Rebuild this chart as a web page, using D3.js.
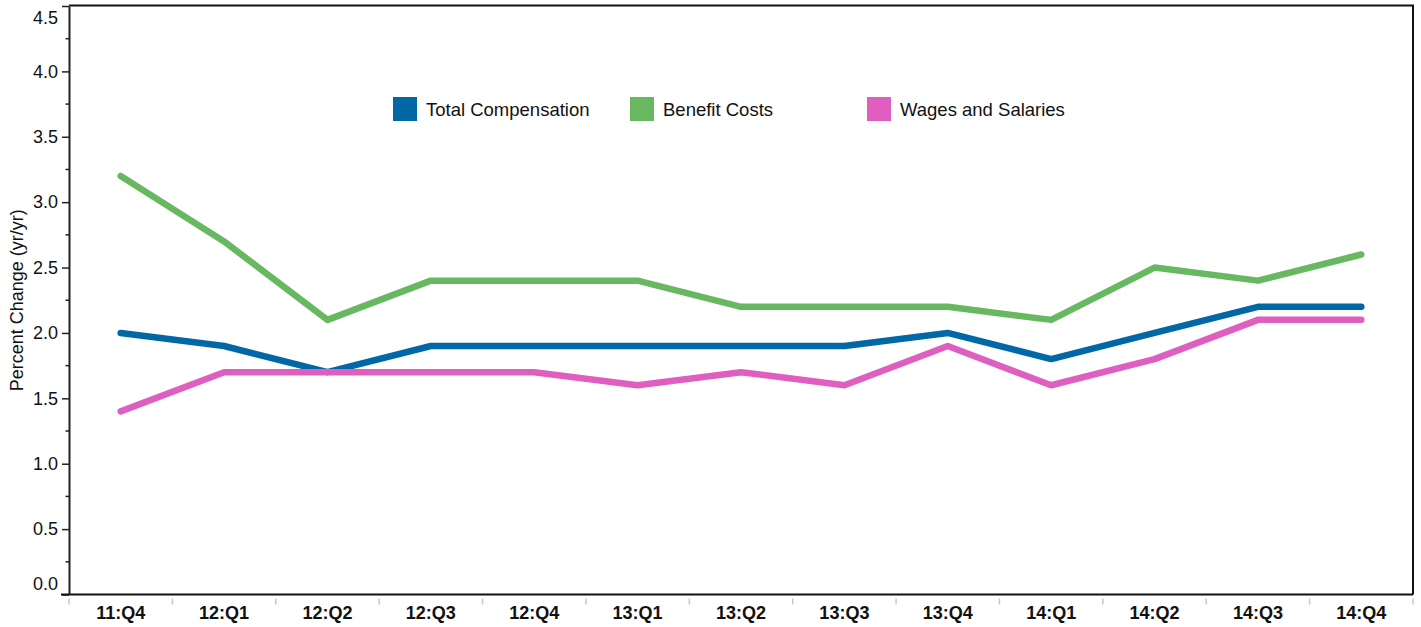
<!DOCTYPE html>
<html>
<head>
<meta charset="utf-8">
<script src="https://cdn.jsdelivr.net/npm/d3@7"></script>
<style>
  html, body { margin: 0; padding: 0; background: #fff; }
  svg { display: block; font-family: "Liberation Sans", Arial, sans-serif; }
</style>
</head>
<body>
<svg id="chart" width="1421" height="627"></svg>
<script>
// Quarters on the x axis
const quarters = ["11:Q4","12:Q1","12:Q2","12:Q3","12:Q4","13:Q1","13:Q2","13:Q3","13:Q4","14:Q1","14:Q2","14:Q3","14:Q4"];

// Year-over-year percent change for each series
const totalCompensation = [2.0, 1.9, 1.7, 1.9, 1.9, 1.9, 1.9, 1.9, 2.0, 1.8, 2.0, 2.2, 2.2];
const benefitCosts      = [3.2, 2.7, 2.1, 2.4, 2.4, 2.4, 2.2, 2.2, 2.2, 2.1, 2.5, 2.4, 2.6];
const wagesSalaries     = [1.4, 1.7, 1.7, 1.7, 1.7, 1.6, 1.7, 1.6, 1.9, 1.6, 1.8, 2.1, 2.1];

// Y axis tick values
const yTicks = [0.0, 0.5, 1.0, 1.5, 2.0, 2.5, 3.0, 3.5, 4.0, 4.5];
const yMinorTicks = [0.25, 0.75, 1.25, 1.75, 2.25, 2.75, 3.25, 3.75, 4.25];

const series = [
  { name: "Total Compensation", values: totalCompensation, color: "#0068a5" },
  { name: "Benefit Costs",      values: benefitCosts,      color: "#68b862" },
  { name: "Wages and Salaries", values: wagesSalaries,     color: "#df5fc0" }
];

const svg = d3.select("#chart");
const plotLeft = 69, plotRight = 1413, plotTop = 6, plotBottom = 594.5;

const x = d3.scaleBand().domain(quarters).range([plotLeft, plotRight]).padding(0);
const y = d3.scaleLinear().domain([0, 4.5]).range([plotBottom, plotTop]);

// Plot frame (top and right edges)
svg.append("path")
  .attr("d", `M${plotLeft},${plotTop - 0.5}H${plotRight}V${plotBottom}`)
  .attr("fill", "none").attr("stroke", "#111").attr("stroke-width", 2);

// Y axis with major ticks
const yAxis = svg.append("g").attr("transform", `translate(${plotLeft},0)`)
  .call(d3.axisLeft(y).tickValues(yTicks).tickFormat(d3.format(".1f")).tickSize(7).tickSizeOuter(0));
yAxis.select(".domain").attr("stroke", "#222").attr("stroke-width", 2);
yAxis.selectAll(".tick line").attr("stroke", "#222").attr("stroke-width", 1.5);
yAxis.selectAll(".tick text").attr("font-size", 18).attr("fill", "#111").attr("x", -11);
yAxis.selectAll(".tick").filter(d => d === 0).select("text").attr("dy", "-0.28em");
yAxis.selectAll(".tick").filter(d => d === 4.5).select("text").attr("dy", "0.95em");

// Minor y ticks
svg.append("g").selectAll("line").data(yMinorTicks).join("line")
  .attr("x1", plotLeft - 3.5).attr("x2", plotLeft)
  .attr("y1", d => y(d)).attr("y2", d => y(d))
  .attr("stroke", "#222").attr("stroke-width", 1.5);

// X axis: bold quarter labels with light separators at band edges
const xAxis = svg.append("g").attr("transform", `translate(0,${plotBottom})`)
  .call(d3.axisBottom(x).tickSize(0).tickPadding(12));
xAxis.select(".domain").remove();
xAxis.selectAll(".tick text").attr("font-size", 18).attr("font-weight", "bold").attr("fill", "#111");

svg.append("line")
  .attr("x1", plotLeft - 8).attr("x2", plotRight).attr("y1", plotBottom).attr("y2", plotBottom)
  .attr("stroke", "#111").attr("stroke-width", 2);

const edges = quarters.map(q => x(q)).concat([x(quarters[quarters.length - 1]) + x.bandwidth()]);
svg.append("g").selectAll("line").data(edges).join("line")
  .attr("x1", d => d).attr("x2", d => d)
  .attr("y1", plotBottom + 4).attr("y2", plotBottom + 10)
  .attr("stroke", "#c8c8c8").attr("stroke-width", 1.5);

// Y axis title
svg.append("text")
  .attr("transform", `translate(23,${(plotTop + plotBottom) / 2}) rotate(-90)`)
  .attr("text-anchor", "middle").attr("font-size", 18).attr("fill", "#111")
  .text("Percent Change (yr/yr)");

// Series lines
const line = d3.line()
  .x((d, i) => x(quarters[i]) + x.bandwidth() / 2)
  .y(d => y(d));

svg.append("g").selectAll("path").data([series[1], series[0], series[2]]).join("path")
  .attr("d", d => line(d.values))
  .attr("fill", "none")
  .attr("stroke", d => d.color)
  .attr("stroke-width", 6.5)
  .attr("stroke-linecap", "round")
  .attr("stroke-linejoin", "round");

// Legend
const legendX = [393, 630, 867];
const legend = svg.append("g").selectAll("g").data(series).join("g")
  .attr("transform", (d, i) => `translate(${legendX[i]},97)`);
legend.append("rect").attr("width", 24).attr("height", 24).attr("fill", d => d.color);
legend.append("text").attr("x", 33).attr("y", 18.5)
  .attr("font-size", 18.5).attr("fill", "#111").text(d => d.name);
</script>
</body>
</html>
